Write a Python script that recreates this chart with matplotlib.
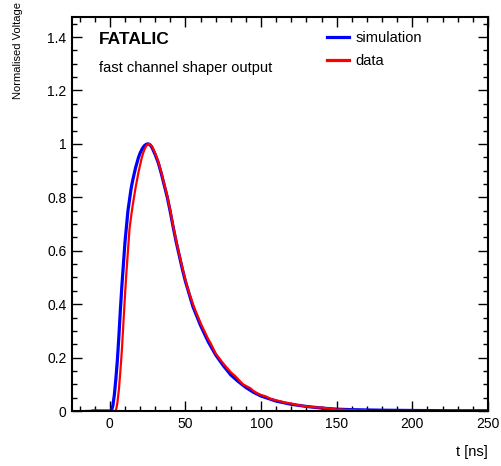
import matplotlib
matplotlib.use("Agg")
import matplotlib.pyplot as plt
from matplotlib.ticker import MultipleLocator, FuncFormatter

plt.rcParams['font.family'] = ['Liberation Sans', 'DejaVu Sans']

# simulation (blue)
sim_t = [-11, 0, 1, 2, 3, 4, 5, 6, 7, 8, 9, 10, 11, 12, 13, 14, 15, 16, 17, 18,
         19, 20, 21, 22, 23, 24, 25, 26, 27, 28, 30, 32, 34, 36, 38, 40, 42, 44,
         46, 48, 50, 55, 60, 65, 70, 75, 80, 85, 90, 95, 100, 110, 120, 130, 140,
         150, 160, 180, 200, 225, 250]
sim_v = [0.0, 0.0, 0.0, 0.02, 0.06, 0.12, 0.19, 0.28, 0.38, 0.47, 0.55, 0.63,
         0.69, 0.75, 0.79, 0.83, 0.86, 0.885, 0.91, 0.93, 0.95, 0.965, 0.977,
         0.987, 0.994, 0.998, 1.0, 0.999, 0.994, 0.985, 0.96, 0.93, 0.89, 0.845,
         0.80, 0.745, 0.685, 0.63, 0.58, 0.53, 0.485, 0.39, 0.32, 0.26, 0.21,
         0.17, 0.135, 0.11, 0.088, 0.07, 0.056, 0.037, 0.025, 0.017, 0.011,
         0.007, 0.005, 0.003, 0.002, 0.001, 0.001]

# measured data (red)
data_t = [-16, -10, 0, 4, 5, 6, 7, 8, 9, 10, 11, 12, 13, 14, 15, 16, 17, 18, 19,
          20, 21, 22, 23, 24, 25, 26, 27, 28, 30, 32, 34, 36, 38, 40, 42, 44, 46,
          48, 50, 52, 55, 57, 60, 62, 65, 67, 70, 72, 75, 78, 80, 83, 85, 88, 90,
          93, 95, 98, 100, 103, 106, 110, 113, 116, 120, 124, 127, 130, 134, 137,
          140, 144, 147, 150, 153, 156, 160, 164, 169]
data_v = [0.0, 0.001, 0.0, 0.0, 0.03, 0.08, 0.15, 0.23, 0.33, 0.43, 0.52, 0.60,
          0.68, 0.725, 0.765, 0.80, 0.835, 0.865, 0.895, 0.92, 0.945, 0.965,
          0.98, 0.992, 0.998, 1.0, 0.997, 0.99, 0.965, 0.935, 0.895, 0.85, 0.805,
          0.75, 0.69, 0.635, 0.585, 0.537, 0.49, 0.45, 0.40, 0.37, 0.33, 0.305,
          0.27, 0.25, 0.215, 0.20, 0.178, 0.158, 0.145, 0.13, 0.118, 0.10, 0.094,
          0.085, 0.075, 0.065, 0.06, 0.055, 0.046, 0.04, 0.036, 0.031, 0.028,
          0.022, 0.02, 0.017, 0.015, 0.013, 0.013, 0.01, 0.008, 0.005, 0.006,
          0.004, 0.004, 0.002, 0.003]

fig = plt.figure(figsize=(5.02, 4.66), dpi=100)
ax = fig.add_axes([0.1434, 0.118, 0.8287, 0.8455])

ax.plot(sim_t, sim_v, color='#0000ff', lw=2.3, label='simulation')
ax.plot(data_t, data_v, color='#ff0000', lw=1.6, label='data')

ax.set_xlim(-25, 250)
ax.set_ylim(0, 1.475)

ax.xaxis.set_major_locator(MultipleLocator(50))
ax.xaxis.set_minor_locator(MultipleLocator(10))
ax.yaxis.set_major_locator(MultipleLocator(0.2))
ax.yaxis.set_minor_locator(MultipleLocator(0.05))
ax.yaxis.set_major_formatter(FuncFormatter(lambda v, p: f"{v:g}"))

ax.tick_params(which='both', direction='in', top=True, right=True,
               labelsize=10, width=1.0, pad=4)
ax.tick_params(which='major', length=7)
ax.tick_params(which='minor', length=3.5)
for s in ax.spines.values():
    s.set_linewidth(1.5)

fig.text(0.035, 0.995, 'Normalised Voltage', rotation=90, ha='center',
         va='top', fontsize=8)
fig.text(0.972, 0.03, 't [ns]', ha='right', va='center', fontsize=10.5)

ax.text(0.065, 0.942, 'FATALIC', transform=ax.transAxes, fontsize=12.5,
        fontweight='bold', va='center')
ax.text(0.065, 0.870, 'fast channel shaper output', transform=ax.transAxes,
        fontsize=10.5, va='center')

leg = ax.legend(loc='upper left', bbox_to_anchor=(0.6, 0.98), frameon=False,
                fontsize=10.5, handlelength=1.45, handletextpad=0.5,
                labelspacing=0.65, borderaxespad=0)
for l in leg.get_lines():
    l.set_linewidth(2.3)

fig.savefig('out.png', dpi=100)
